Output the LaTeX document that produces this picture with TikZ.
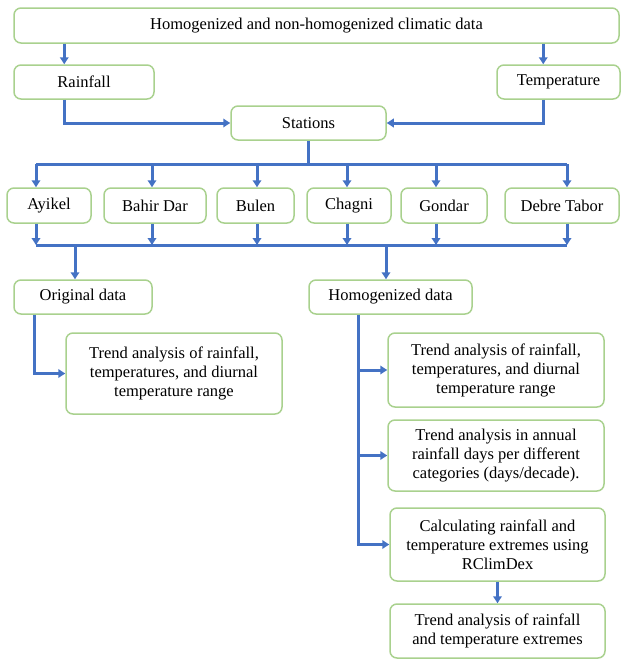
\documentclass[tikz,border=0pt]{standalone}
\usepackage{fontspec}
\setmainfont{Liberation Serif}
\usetikzlibrary{arrows.meta,positioning}

\definecolor{boxgreen}{HTML}{A9D18E}
\definecolor{arrblue}{HTML}{4472C4}

\begin{document}
\begin{tikzpicture}[
  x=1pt,y=-1pt,
  font=\fontsize{16.5}{19}\selectfont,
  box/.style={rectangle,rounded corners=7pt,draw=boxgreen,fill=white,line width=1.5pt,
              align=center,inner sep=0pt},
  link/.style={draw=arrblue,line width=3pt},
  flow/.style={link,-{Triangle[length=7pt,width=8.5pt]}},
]
\useasboundingbox (0,0) rectangle (621,659);

%% ------------------------------------------------------------- sources
\node[box,minimum width=605,minimum height=35] (data) at (316.5,25.5)
  {Homogenized and non-homogenized climatic data};
\node[box,minimum width=140,minimum height=34] (rain) at (84,82) {Rainfall};
\node[box,minimum width=123,minimum height=34] (temp) at (558.5,82) {Temperature};
\node[box,minimum width=155,minimum height=34] (stat) at (308.5,123) {Stations};
\draw[flow] ([xshift=51]rain.north west |- data.south) -- ([xshift=51]rain.north west);
\draw[flow] ([xshift=47]temp.north west |- data.south) -- ([xshift=47]temp.north west);
\draw[flow] ([xshift=51]rain.south west) |- (stat.west);
\draw[flow] ([xshift=47]temp.south west) |- (stat.east);

%% ------------------------------------------------------------ stations
\node[box,minimum width=84,minimum height=35]  (ayikel) at (49,205.5)  {Ayikel};
\node[box,minimum width=102,minimum height=35] (bahir)  at (155,205.5) {Bahir Dar};
\node[box,minimum width=77,minimum height=35]  (bulen)  at (255.5,205.5) {Bulen};
\node[box,minimum width=84,minimum height=35]  (chagni) at (349,205.5) {Chagni};
\node[box,minimum width=86,minimum height=35]  (gondar) at (444,205.5) {Gondar};
\node[box,minimum width=114,minimum height=35] (debre)  at (562,205.5) {Debre Tabor};
\coordinate (bustop) at (0,164);
\coordinate (busbot) at (0,245);
\draw[link] (stat.south) -- (stat.south |- bustop);
\draw[link] ([xshift=-13]ayikel.north |- bustop) -- ([xshift=5]debre.north |- bustop);
\draw[link] ([xshift=-13]ayikel.south |- busbot) -- ([xshift=5]debre.south |- busbot);
\foreach \st/\dx in {ayikel/-13,bahir/-3,bulen/1.5,chagni/-2,gondar/-8,debre/5}{
  \draw[flow] ([xshift=\dx]\st.north |- bustop) -- ([xshift=\dx]\st.north);
  \draw[flow] ([xshift=\dx]\st.south) -- ([xshift=\dx]\st.south |- busbot);
}

%% ---------------------------------------------------------------- data
\node[box,minimum width=138,minimum height=34] (orig)  at (83,297)    {Original data};
\node[box,minimum width=163,minimum height=34] (homog) at (390.5,297) {Homogenized data};
\draw[flow] ([xshift=-8]orig.north |- busbot) -- ([xshift=-8]orig.north);
\draw[flow] ([xshift=-4.5]homog.north |- busbot) -- ([xshift=-4.5]homog.north);

%% ------------------------------------------------------------ analyses
\node[box,minimum width=216,minimum height=81] (trorig) at (174,373.5)
  {Trend analysis of rainfall,\\ temperatures, and diurnal\\ temperature range};
\node[box,minimum width=216,minimum height=74] (trhom) at (496,370)
  {Trend analysis of rainfall,\\ temperatures, and diurnal\\ temperature range};
\node[box,minimum width=216,minimum height=71] (trdays) at (496,455.5)
  {Trend analysis in annual\\ rainfall days per different\\ categories (days/decade).};
\node[box,minimum width=215,minimum height=73] (calc) at (497.5,544.5)
  {Calculating rainfall and\\ temperature extremes using\\ RClimDex};
\node[box,minimum width=215,minimum height=54] (trext) at (497.5,631)
  {Trend analysis of rainfall\\ and temperature extremes};
\draw[flow] ([xshift=21]orig.south west) |- (trorig.west);
\draw[flow] ([xshift=50]homog.south west) |- (trhom.west);
\draw[flow] ([xshift=50]homog.south west) |- (trdays.west);
\draw[flow] ([xshift=50]homog.south west) |- (calc.west);
\draw[flow] (calc) -- (trext);

\end{tikzpicture}
\end{document}
